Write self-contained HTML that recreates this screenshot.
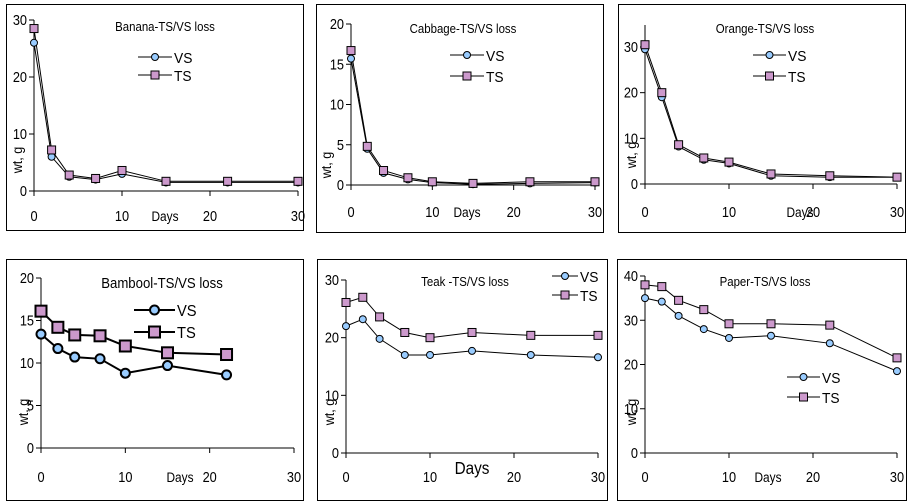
<!DOCTYPE html>
<html><head><meta charset="utf-8"><style>
html,body{margin:0;padding:0;background:#fff;width:912px;height:504px;overflow:hidden}
svg{display:block}
text{font-family:"Liberation Sans Narrow","Liberation Sans",sans-serif;fill:#000}
</style></head><body>
<svg id="s" width="912" height="504" xmlns="http://www.w3.org/2000/svg"></svg>
<script>
const days=[0,2,4,7,10,15,22,30];
const P=[
{f:[6,4,303,230],x0:34,x1:298,y0:191,ymax:30,yt:20,ticks:[0,10,20,30],xl:221,title:"Banana-TS/VS loss",tx:165,ty:31,lg:[138,172,57,75],big:false,
 vs:[26,6,2.5,2,3,1.5,1.5,1.5],ts:[28.5,7.2,2.8,2.2,3.6,1.7,1.7,1.7],yl:[22,160],days:[165,221]},
{f:[316,4,603,232],x0:351,x1:595,y0:185,ymax:20,yt:24,ticks:[0,5,10,15,20],xl:217,title:"Cabbage-TS/VS loss",tx:463,ty:33,lg:[450,484,55,76],big:false,
 vs:[15.7,4.5,1.5,0.7,0.3,0.1,0.2,0.3],ts:[16.7,4.8,1.8,0.9,0.4,0.2,0.4,0.4],yl:[331,165],days:[467,217]},
{f:[618,4,905,232],x0:645,x1:897,y0:184,ymax:30,yt:47,ticks:[0,10,20,30],xl:217,title:"Orange-TS/VS loss",tx:765,ty:33,lg:[753,786,55,76],big:false,
 vs:[29.5,19,8.2,5.3,4.5,1.8,1.5,1.5],ts:[30.5,20,8.6,5.7,4.8,2.2,1.8,1.5],yl:[636,155],days:[800,217],axTop:25},
{f:[6,259,303,500],x0:41,x1:294,y0:448,ymax:20,yt:278,ticks:[0,5,10,15,20],xl:482,title:"Bambool-TS/VS loss",tx:162,ty:288,lg:[134,175,310,332],big:true,
 vs:[13.4,11.7,10.7,10.5,8.8,9.7,8.6],ts:[16.1,14.2,13.3,13.2,12.0,11.2,11.0],yl:[28,412],days:[180,482]},
{f:[317,259,607,500],x0:346,x1:598,y0:453,ymax:30,yt:280,ticks:[0,10,20,30],xl:482,title:"Teak -TS/VS loss",tx:465,ty:286,lg:[552,578,276,295],big:false,
 vs:[22,23.2,19.8,17,17,17.7,17,16.6],ts:[26.1,27,23.6,20.9,20,20.9,20.4,20.4],yl:[334,412],days:[472,474],bigDays:true},
{f:[617,259,906,500],x0:645,x1:897,y0:453,ymax:40,yt:276,ticks:[0,10,20,30,40],xl:482,title:"Paper-TS/VS loss",tx:765,ty:286,lg:[787,820,377,397],big:false,
 vs:[35,34.2,31,28,26,26.5,24.8,18.5],ts:[38,37.6,34.5,32.4,29.2,29.2,28.9,21.5],yl:[636,412],days:[768,482]}
];
function T(x,y,s,fs,anchor,sx){sx=sx||0.85;return `<text transform="translate(${x},${y}) scale(${sx},1)" font-size="${fs}" text-anchor="${anchor||'start'}">${s}</text>`;}
let h="";
for(const p of P){
 const [a,b,c,d]=p.f;
 h+=`<rect x="${a+.5}" y="${b+.5}" width="${c-a}" height="${d-b}" fill="#fff" stroke="#000" stroke-width="1"/>`;
 const X=v=>p.x0+(p.x1-p.x0)*v/30, Y=v=>p.y0-(p.y0-p.yt)*v/p.ymax;
 const top=p.axTop||p.yt;
 h+=`<line x1="${p.x0}" y1="${top}" x2="${p.x0}" y2="${p.y0}" stroke="#000"/>`;
 h+=`<line x1="${p.x0}" y1="${p.y0}" x2="${p.x1}" y2="${p.y0}" stroke="#000"/>`;
 for(const t of p.ticks){h+=`<line x1="${p.x0-5}" y1="${Y(t)}" x2="${p.x0}" y2="${Y(t)}" stroke="#000"/>`;
  h+=T(p.x0-7,Y(t)+5,t,15,"end");}
 for(const t of [0,10,20,30]){h+=`<line x1="${X(t)}" y1="${p.y0}" x2="${X(t)}" y2="${p.y0+5}" stroke="#000"/>`;
  h+=T(X(t),p.xl,t,15,"middle");}
 h+=T(p.days[0],p.days[1],"Days",p.bigDays?18:14,"middle");
 h+=`<text transform="translate(${p.yl[0]},${p.yl[1]}) rotate(-90) scale(0.9,1)" font-size="14" text-anchor="middle">wt, g</text>`;
 h+=T(p.tx,p.ty,p.title,p.big?15:13,"middle",0.88);
 const sw=p.big?2:1, cr=p.big?4.5:3.5, sq=p.big?11:8;
 const line=(arr)=>arr.map((v,i)=>`${X(days[i]).toFixed(1)},${Y(v).toFixed(1)}`).join(" ");
 h+=`<polyline points="${line(p.vs)}" fill="none" stroke="#000" stroke-width="${sw}"/>`;
 h+=`<polyline points="${line(p.ts)}" fill="none" stroke="#000" stroke-width="${sw}"/>`;
 p.vs.forEach((v,i)=>h+=`<circle cx="${X(days[i])}" cy="${Y(v)}" r="${cr}" fill="#99CCFF" stroke="#000" stroke-width="${sw}"/>`);
 p.ts.forEach((v,i)=>h+=`<rect x="${X(days[i])-sq/2}" y="${Y(v)-sq/2}" width="${sq}" height="${sq}" fill="#CC99CC" stroke="#000" stroke-width="${sw}"/>`);
 const [l1,l2,ly1,ly2]=p.lg, mx=(l1+l2)/2, fs=p.big?16:15;
 h+=`<line x1="${l1}" y1="${ly1}" x2="${l2}" y2="${ly1}" stroke="#000" stroke-width="${sw}"/><circle cx="${mx}" cy="${ly1}" r="${cr}" fill="#99CCFF" stroke="#000" stroke-width="${sw}"/>`;
 h+=T(l2+2,ly1+6,"VS",fs,"start",0.92);
 h+=`<line x1="${l1}" y1="${ly2}" x2="${l2}" y2="${ly2}" stroke="#000" stroke-width="${sw}"/><rect x="${mx-sq/2}" y="${ly2-sq/2}" width="${sq}" height="${sq}" fill="#CC99CC" stroke="#000" stroke-width="${sw}"/>`;
 h+=T(l2+2,ly2+6,"TS",fs,"start",0.92);
}
document.getElementById("s").innerHTML=h;
</script>
</body></html>
